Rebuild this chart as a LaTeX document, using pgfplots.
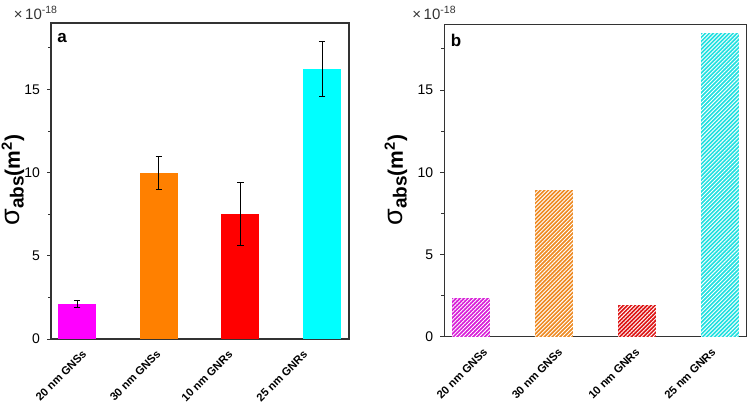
\documentclass[border=0pt]{standalone}
\usepackage{fontspec}
\setmainfont{Liberation Sans}
\usepackage{pgfplots}
\pgfplotsset{compat=1.18}
\usetikzlibrary{patterns.meta}
\definecolor{cmag}{HTML}{FF00FF}
\definecolor{cora}{HTML}{FF8000}
\definecolor{cred}{HTML}{FF0000}
\definecolor{ccyan}{HTML}{00FFFF}
\definecolor{bmag}{HTML}{D820D8}
\definecolor{bora}{HTML}{EE8A22}
\definecolor{bred}{HTML}{DD1515}
\definecolor{bcyan}{HTML}{22E0E0}
\definecolor{axcol}{HTML}{333333}
\pgfplotsset{
  mystyle/.style={
    scale only axis,
    anchor=south west,
    ymin=0, ymax=19,
    xmin=-0.32, xmax=3.33,
    xticklabels={20 nm GNSs,30 nm GNSs,10 nm GNRs,25 nm GNRs},
    xticklabel style={rotate=45, anchor=north east, inner sep=0.5pt,
      font=\bfseries\fontsize{5.6}{7}\selectfont, xshift=-2.5pt, yshift=-0.8pt},
    major x tick style={draw=none},
    ytick={0,5,10,15},
    minor ytick={2.5,7.5,12.5,17.5},
    yticklabel style={font=\fontsize{7}{8}\selectfont},
    /pgf/number format/assume math mode=true,
    ytick pos=left,
    tick align=outside,
    major tick length=2pt,
    minor tick length=1.5pt,
    tick style={axcol, line width=0.5pt},
    axis line style={axcol, line width=0.6pt},
    clip=false,
  }
}
\newcommand{\ylab}{{\fontsize{13.5}{14}\selectfont σ}\raisebox{-0.35ex}{\bfseries\fontsize{9.5}{10}\selectfont abs}{\bfseries\fontsize{10.5}{11}\selectfont(m\textsuperscript{2})}}
\begin{document}
\begin{tikzpicture}
\useasboundingbox (0,0) rectangle (374.5pt,204pt);
% panel a
\begin{axis}[mystyle, at={(25.5pt,34.5pt)}, width=149pt, height=158pt,
  xtick={0.084,0.991,1.873,2.791}]
\addplot[ybar, bar shift=0pt, bar width=19pt, fill=cmag, draw=none,
  error bars/.cd, y dir=both, y explicit, error bar style={black, line width=0.5pt},
  error mark options={rotate=90, black, mark size=1.6pt, line width=0.5pt}]
  coordinates {(0,2.1) +- (0,0.22)};
\addplot[ybar, bar shift=0pt, bar width=19pt, fill=cora, draw=none,
  error bars/.cd, y dir=both, y explicit, error bar style={black, line width=0.5pt},
  error mark options={rotate=90, black, mark size=1.6pt, line width=0.5pt}]
  coordinates {(1,10.0) +- (0,1.0)};
\addplot[ybar, bar shift=0pt, bar width=19pt, fill=cred, draw=none,
  error bars/.cd, y dir=both, y explicit, error bar style={black, line width=0.5pt},
  error mark options={rotate=90, black, mark size=1.6pt, line width=0.5pt}]
  coordinates {(2,7.5) +- (0,1.9)};
\addplot[ybar, bar shift=0pt, bar width=19pt, fill=ccyan, draw=none,
  error bars/.cd, y dir=both, y explicit, error bar style={black, line width=0.5pt},
  error mark options={rotate=90, black, mark size=1.6pt, line width=0.5pt}]
  coordinates {(3,16.25) +- (0,1.65)};
\node[anchor=north west, font=\bfseries\fontsize{8.5}{10}\selectfont, inner sep=0pt] at (rel axis cs:0.02,0.97) {a};
\node[anchor=south east, font=\fontsize{7.5}{8}\selectfont, inner sep=0pt, text=axcol] at (rel axis cs:0.025,1.01) {×\,10\textsuperscript{-18}};
\end{axis}
% panel b
\begin{axis}[mystyle, at={(222.15pt,35.65pt)}, width=151.2pt, height=156.2pt, xmax=3.32,
  xtick={0.170,1.073,2.0,2.915}]
\addplot[ybar, bar shift=0pt, bar width=19pt, fill=bmag, draw=none,
  postaction={pattern={Lines[angle=45, distance=1.4pt, line width=0.45pt]}, pattern color=white}]
  coordinates {(0,2.38)};
\addplot[ybar, bar shift=0pt, bar width=19pt, fill=bora, draw=none,
  postaction={pattern={Lines[angle=45, distance=1.4pt, line width=0.45pt]}, pattern color=white}]
  coordinates {(1,8.9)};
\addplot[ybar, bar shift=0pt, bar width=19pt, fill=bred, draw=none,
  postaction={pattern={Lines[angle=45, distance=1.4pt, line width=0.45pt]}, pattern color=white}]
  coordinates {(2,1.9)};
\addplot[ybar, bar shift=0pt, bar width=19pt, fill=bcyan, draw=none,
  postaction={pattern={Lines[angle=45, distance=1.4pt, line width=0.45pt]}, pattern color=white}]
  coordinates {(3,18.46)};
\node[anchor=north west, font=\bfseries\fontsize{8.5}{10}\selectfont, inner sep=0pt] at (rel axis cs:0.02,0.97) {b};
\node[anchor=south east, font=\fontsize{7.5}{8}\selectfont, inner sep=0pt, text=axcol] at (rel axis cs:0.042,1.015) {×\,10\textsuperscript{-18}};
\end{axis}
% y labels
\node[rotate=90, inner sep=0pt] at (6.5pt,114pt) {\ylab};
\node[rotate=90, inner sep=0pt] at (198pt,114pt) {\ylab};
\end{tikzpicture}
\end{document}
